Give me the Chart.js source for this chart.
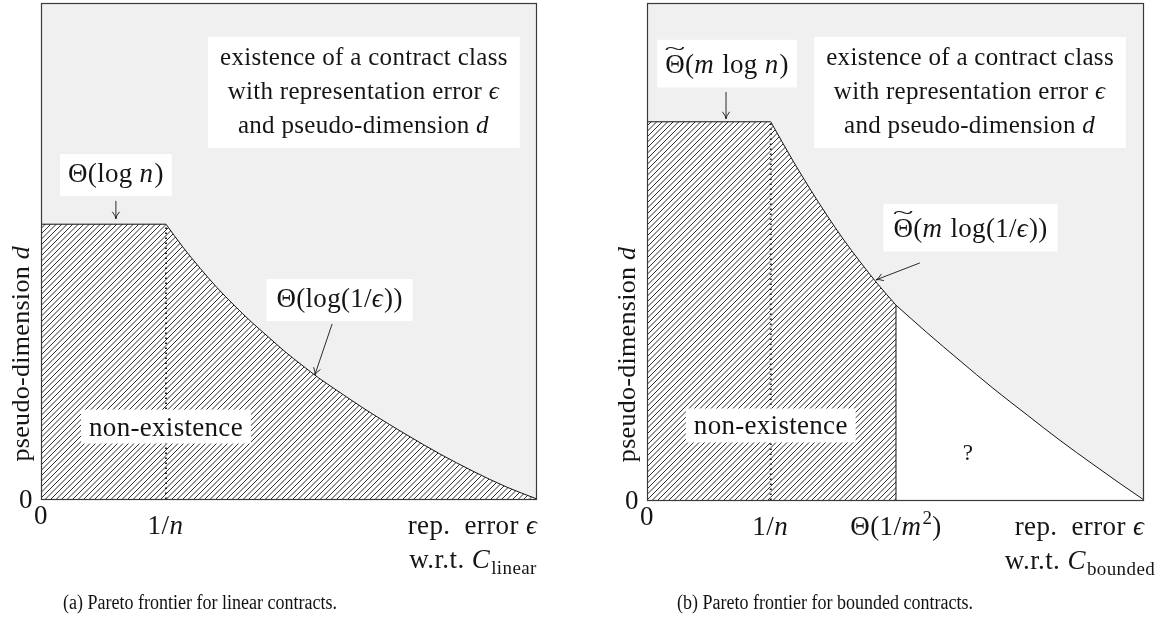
<!DOCTYPE html>
<html><head><meta charset="utf-8">
<script src="https://cdn.jsdelivr.net/npm/chart.js@4.4.1/dist/chart.umd.min.js"></script>
<style>
html,body{margin:0;padding:0;background:#fff;}
body{width:1172px;height:622px;position:relative;overflow:hidden;}
canvas{position:absolute;top:0;}
#ca{left:0;} #cb{left:586px;}
.cap{position:absolute;top:591px;font-family:'Liberation Serif','DejaVu Serif',serif;font-size:20px;color:#111;white-space:nowrap;transform:translateX(-50%) scaleX(0.9);line-height:22px;}
</style></head><body>
<canvas id="ca" width="586" height="622"></canvas>
<canvas id="cb" width="586" height="622"></canvas>
<div class="cap" style="left:200px">(a) Pareto frontier for linear contracts.</div>
<div class="cap" style="left:825px">(b) Pareto frontier for bounded contracts.</div>
<script>
// ---------------- data ----------------
// (a) linear contracts
const linPlateau = 55.4;   // Θ(log n) level of pseudo-dimension
const linInvN = 25.2;      // position of 1/n
const linCurveX = [25.2,28.6,32.1,35.5,38.9,42.3,45.8,49.2,52.6,56.0,59.5,62.9,66.9,73.8,80.4,87.1,93.9,100];
const linCurveY = [55.4,50.8,46.5,42.6,39.1,35.8,32.7,29.7,27.0,24.4,22.0,19.7,17.1,12.9,9.1,5.6,2.4,0];
const linXTicks = [0, 25.2];
const linXTickLabels = ['0', '1/*n*'];
const linXTitle = ['rep.\u2002error *ϵ*', 'w.r.t. *C*_{linear}'];
// (b) bounded contracts
const bndPlateau = 76.1;   // Θ~(m log n) level
const bndInvN = 24.9;      // position of 1/n
const bndCutX = 50.1;      // position of Θ(1/m^2)
const bndCurveX = [24.9,29.4,32.8,36.2,39.4,42.9,46.3,50.1,56.3,63.0,69.6,76.5,83.1,89.7,95.2,100];
const bndCurveY = [76.1,68.2,62.6,57.3,52.6,47.9,43.6,39.2,33.7,28.0,22.5,17.1,12.0,7.2,3.3,0];
const bndXTicks = [0, 24.9, 50.1];
const bndXTickLabels = ['0', '1/*n*', 'Θ(1/*m*^{2})'];
const bndXTitle = ['rep.\u2002error *ϵ*', 'w.r.t. *C*_{bounded}'];
// shared
const yTicks = [0];
const yTickLabels = ['0'];
const yTitle = 'pseudo-dimension *d*';
const existenceText = ['existence of a contract class', 'with representation error *ϵ*', 'and pseudo-dimension *d*'];

// ---------------- styling helpers ----------------
const FAM = "'Liberation Serif','DejaVu Serif',serif";
const SIZE = 25, AXSIZE = 27, MATHSIZE = 27;
const INK = '#151515', FRAME = '#3a3a3a', BG = '#f0f0f0';

function parseRich(s){
  const runs=[]; let it=false,pos=null,tl=false,i=0;
  while(i<s.length){
    const c=s[i];
    if(c==='*'){it=!it;i++;continue;}
    if((c==='^'||c==='_')&&s[i+1]==='{'){pos=c==='^'?'sup':'sub';i+=2;continue;}
    if(c==='}'&&pos){pos=null;i++;continue;}
    if(c==='~'){tl=true;i++;continue;}
    const last=runs[runs.length-1];
    if(!tl&&last&&!last.tl&&last.it===it&&last.pos===pos) last.t+=c;
    else runs.push({t:c,it,pos,tl});
    tl=false;i++;
  }
  return runs;
}
function fontOf(r,size){return (r.it?'italic ':'')+(r.pos?Math.round(size*0.7):size)+'px '+FAM;}
function measure(ctx,s,size){
  const runs=parseRich(s); let w=0,asc=0,desc=0;
  for(const r of runs){
    ctx.font=fontOf(r,size); const m=ctx.measureText(r.t);
    r.w=m.width; r.dy=r.pos==='sup'?-size*0.4:r.pos==='sub'?size*0.22:0; r.x=w;
    asc=Math.max(asc,m.actualBoundingBoxAscent-r.dy); desc=Math.max(desc,m.actualBoundingBoxDescent+r.dy);
    if(r.tl) asc=Math.max(asc,size*0.95);
    w+=r.w+(r.it?size*0.04:0);
  }
  return {runs,w,asc,desc,size};
}
function drawM(ctx,M,x,y){
  ctx.textAlign='left'; ctx.textBaseline='alphabetic';
  for(const r of M.runs){
    ctx.font=fontOf(r,M.size); ctx.fillText(r.t,x+r.x,y+r.dy);
    if(r.tl){
      ctx.save(); ctx.font=Math.round(M.size*0.9)+'px '+FAM;
      ctx.translate(x+r.x+r.w/2, y-M.size*0.7); ctx.scale(1.6,0.75);
      ctx.textAlign='center'; ctx.fillText('~',0,0); ctx.restore();
    }
  }
}
function drawArrow(ctx,p0,p1){
  const dx=p1[0]-p0[0], dy=p1[1]-p0[1], L=Math.hypot(dx,dy), ux=dx/L, uy=dy/L;
  const hl=7, hw=3.6;
  ctx.save(); ctx.strokeStyle=INK; ctx.lineWidth=0.9; ctx.beginPath();
  ctx.moveTo(p0[0],p0[1]); ctx.lineTo(p1[0],p1[1]);
  ctx.moveTo(p1[0]-ux*hl+uy*hw, p1[1]-uy*hl-ux*hw);
  ctx.quadraticCurveTo(p1[0]-ux*2.5,p1[1]-uy*2.5,p1[0],p1[1]);
  ctx.quadraticCurveTo(p1[0]-ux*2.5,p1[1]-uy*2.5,p1[0]-ux*hl-uy*hw, p1[1]-uy*hl+ux*hw);
  ctx.stroke(); ctx.restore();
}
function makeHatch(ctx){
  const s=11, c=document.createElement('canvas'); c.width=s; c.height=s;
  const g=c.getContext('2d');
  g.fillStyle='#fff'; g.fillRect(0,0,s,s);
  g.strokeStyle='rgba(0,0,0,0.88)'; g.lineWidth=0.95;
  g.beginPath();
  for(const off of [-11,-5.5,0,5.5,11]){ g.moveTo(off-1,s+1); g.lineTo(off+s+1,-1); }
  g.stroke();
  return ctx.createPattern(c,'repeat');
}
const pts=(xs,ys)=>xs.map((x,i)=>({x,y:ys[i]}));

function makeDecor(cfg){
  return {
    id:'decor',
    beforeDraw(chart){
      const {ctx,chartArea:a}=chart;
      ctx.save(); ctx.fillStyle='#fff'; ctx.fillRect(0,0,chart.width,chart.height);
      ctx.fillStyle=BG; ctx.fillRect(a.left,a.top,a.width,a.height); ctx.restore();
    },
    afterDatasetsDraw(chart){
      const {ctx,chartArea:a}=chart, xs=chart.scales.x, ys=chart.scales.y;
      ctx.save();
      ctx.strokeStyle=FRAME; ctx.lineWidth=1.2;
      ctx.strokeRect(a.left+0.5,a.top+0.5,a.width-1,a.height);
      ctx.letterSpacing='0.3px';
      for(const an of cfg.annots){
        const size=an.size||SIZE, pitch=34;
        const Ms=an.lines.map(s=>measure(ctx,s,size));
        const w=Math.max(...Ms.map(m=>m.w));
        const asc=Ms[0].asc, desc=Ms[Ms.length-1].desc;
        const th=asc+(Ms.length-1)*pitch+desc;
        const px=an.padX||8, py=an.padY||8;
        const cx=xs.getPixelForValue(an.at[0]), cy=ys.getPixelForValue(an.at[1]);
        const bw=w+2*px, bh=th+2*py;
        if(an.box!==false){ctx.fillStyle='#fff'; ctx.fillRect(cx-bw/2,cy-bh/2,bw,bh);}
        ctx.fillStyle=INK;
        const base=cy-bh/2+py+asc;
        Ms.forEach((m,i)=>drawM(ctx,m,cx-m.w/2,base+i*pitch));
        if(an.arrow){
          drawArrow(ctx,[xs.getPixelForValue(an.arrow[0][0]),ys.getPixelForValue(an.arrow[0][1])],
                        [xs.getPixelForValue(an.arrow[1][0]),ys.getPixelForValue(an.arrow[1][1])]);
        }
      }
      ctx.restore();
    },
    afterDraw(chart){
      const {ctx,chartArea:a}=chart, xs=chart.scales.x, ys=chart.scales.y;
      ctx.save(); ctx.fillStyle=INK; ctx.letterSpacing='0.4px';
      xs.ticks.forEach((t,i)=>{
        const M=measure(ctx,cfg.xTickLabels[i],AXSIZE), p=xs.getPixelForValue(t.value);
        const by=t.value===xs.min ? a.bottom+25 : a.bottom+35;
        drawM(ctx,M,p-M.w/2,by);
      });
      ys.ticks.forEach((t,i)=>{
        const M=measure(ctx,yTickLabels[i],AXSIZE), p=ys.getPixelForValue(t.value);
        drawM(ctx,M,a.left-15-M.w/2,p+M.asc/2);
      });
      cfg.xTitle.forEach((s,i)=>{
        const M=measure(ctx,s,AXSIZE);
        drawM(ctx,M,a.right-64-M.w/2,a.bottom+35+i*34);
      });
      ctx.letterSpacing='0.3px';
      const M=measure(ctx,yTitle,26);
      ctx.translate(a.left-12, ys.getPixelForValue(cfg.yTitleAt)); ctx.rotate(-Math.PI/2);
      drawM(ctx,M,-M.w/2,0);
      ctx.restore();
    }
  };
}

function makeChart(id,datasets,cfg,pad){
  const canvas=document.getElementById(id);
  return new Chart(canvas,{
    type:'line',
    data:{datasets},
    options:{
      responsive:false, animation:false, devicePixelRatio:1, events:[],
      layout:{padding:pad},
      plugins:{legend:{display:false},tooltip:{enabled:false}},
      elements:{point:{radius:0}},
      scales:{
        x:{type:'linear',min:0,max:100,grid:{display:false,drawTicks:false},border:{display:false},ticks:{display:false},
           afterBuildTicks:s=>{s.ticks=cfg.xTicks.map(v=>({value:v}));}},
        y:{type:'linear',min:0,max:100,grid:{display:false,drawTicks:false},border:{display:false},ticks:{display:false},
           afterBuildTicks:s=>{s.ticks=yTicks.map(v=>({value:v}));}}
      }
    },
    plugins:[makeDecor(cfg)]
  });
}

const DOTS = {borderColor:'#222',borderWidth:2,borderDash:[1.6,3.4],borderCapStyle:'butt',fill:false,order:0};

// ---------- chart (a) ----------
const ctxA=document.getElementById('ca').getContext('2d');
const hatchA=makeHatch(ctxA);
makeChart('ca',[
  Object.assign({data:[{x:linInvN,y:0},{x:linInvN,y:linPlateau}]},DOTS),
  {data:[{x:0,y:linPlateau},{x:linInvN,y:linPlateau}],borderColor:INK,borderWidth:1,fill:'origin',backgroundColor:hatchA,order:2},
  {data:pts(linCurveX,linCurveY),cubicInterpolationMode:'monotone',borderColor:INK,borderWidth:1,fill:'origin',backgroundColor:hatchA,order:2}
],{
  xTicks:linXTicks, xTickLabels:linXTickLabels, xTitle:linXTitle, yTitleAt:29.4,
  annots:[
    {lines:existenceText,at:[65.1,82.0],padX:12,padY:10},
    {lines:['Θ(log *n*)'],at:[15.1,65.3],size:MATHSIZE,arrow:[[15.1,60.1],[15.1,56.5]]},
    {lines:['Θ(log(1/*ϵ*))'],at:[60.2,40.1],size:MATHSIZE,padX:10,arrow:[[58.7,35.3],[55.2,25.0]]},
    {lines:['non-existence'],at:[25.2,14.6],size:MATHSIZE}
  ]
},{left:41,top:3,right:49,bottom:123});

// ---------- chart (b) ----------
const ctxB=document.getElementById('cb').getContext('2d');
const hatchB=makeHatch(ctxB);
const cutIdx=bndCurveX.indexOf(bndCutX);
makeChart('cb',[
  Object.assign({data:[{x:bndInvN,y:0},{x:bndInvN,y:bndPlateau}]},DOTS),
  {data:[{x:bndCutX,y:0},{x:bndCutX,y:bndCurveY[cutIdx]}],borderColor:INK,borderWidth:1,fill:false,order:0},
  {data:[{x:0,y:bndPlateau},{x:bndInvN,y:bndPlateau}],borderColor:INK,borderWidth:1,fill:'origin',backgroundColor:hatchB,order:2},
  {data:pts(bndCurveX.slice(0,cutIdx+1),bndCurveY.slice(0,cutIdx+1)),cubicInterpolationMode:'monotone',borderColor:INK,borderWidth:1,fill:'origin',backgroundColor:hatchB,order:2},
  {data:pts(bndCurveX.slice(cutIdx),bndCurveY.slice(cutIdx)),cubicInterpolationMode:'monotone',borderColor:INK,borderWidth:1,fill:'origin',backgroundColor:'#ffffff',order:2}
],{
  xTicks:bndXTicks, xTickLabels:bndXTickLabels, xTitle:bndXTitle, yTitleAt:29.4,
  annots:[
    {lines:['~Θ(*m* log *n*)'],at:[16.1,87.8],size:MATHSIZE,arrow:[[15.9,82.1],[15.9,76.7]]},
    {lines:existenceText,at:[65.0,82.0],padX:12,padY:10},
    {lines:['~Θ(*m* log(1/*ϵ*))'],at:[65.1,54.8],size:MATHSIZE,padX:10,arrow:[[54.9,47.7],[46.1,44.3]]},
    {lines:['non-existence'],at:[24.9,15.0],size:MATHSIZE},
    {lines:['?'],at:[64.6,9.5],box:false,size:23}
  ]
},{left:61,top:3,right:28,bottom:122});
</script></body></html>
